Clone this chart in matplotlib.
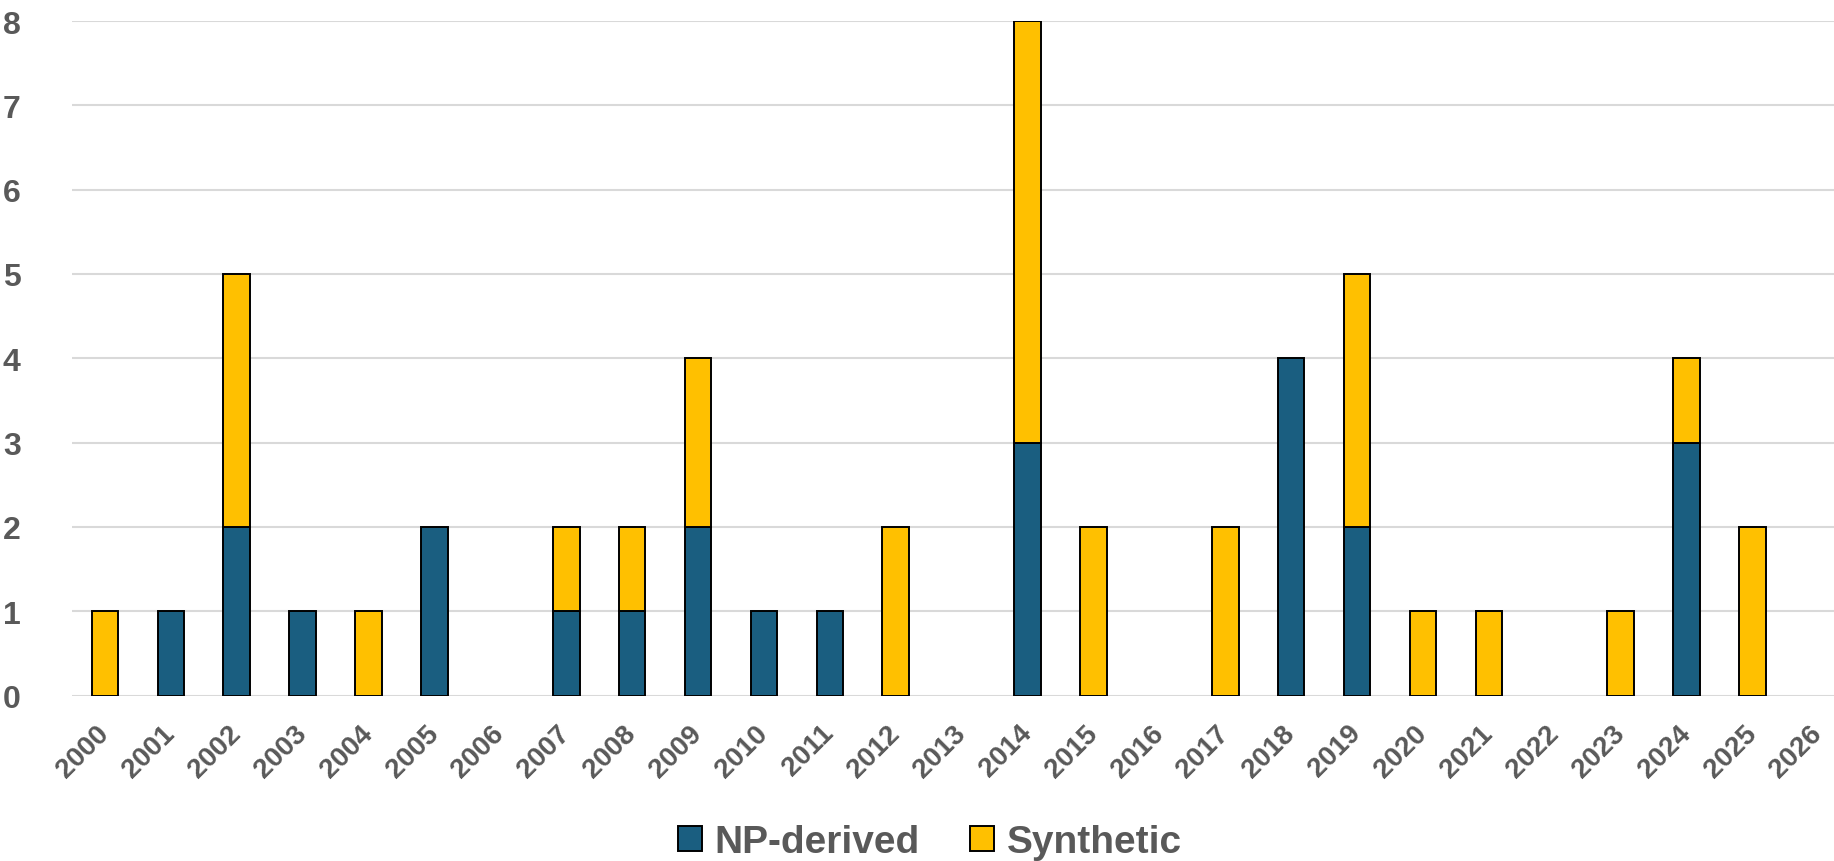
import matplotlib.pyplot as plt
import numpy as np

years = [str(y) for y in range(2000, 2027)]
np_derived = [0, 1, 2, 1, 0, 2, 0, 1, 1, 2, 1, 1, 0, 0, 3, 0, 0, 0, 4, 2, 0, 0, 0, 0, 3, 0, 0]
synthetic = [1, 0, 3, 0, 1, 0, 0, 1, 1, 2, 0, 0, 2, 0, 5, 2, 0, 2, 0, 3, 1, 1, 0, 1, 1, 2, 0]

blue = '#1A5E80'
yellow = '#FFC000'
grey = '#595959'

W, H = 1834, 862
fig = plt.figure(figsize=(W / 100, H / 100), dpi=100)
ax = fig.add_axes([72 / W, (H - 696.5) / H, (W - 72) / W, (696.5 - 22) / H])

x = np.arange(len(years))
nd = np.array(np_derived)
sy = np.array(synthetic)
m1 = nd > 0
m2 = sy > 0
# skip zero-height bars so they don't leave a flat outline
ax.bar(x[m1], nd[m1], width=0.405, color=blue, edgecolor='black', linewidth=1.4,
       label='NP-derived', zorder=3)
ax.bar(x[m2], sy[m2], width=0.405, bottom=nd[m2], color=yellow, edgecolor='black',
       linewidth=1.4, label='Synthetic', zorder=3)

ax.set_ylim(0, 8)
ax.set_xlim(-0.5, -0.5 + (W - 72) / 65.9)
ax.set_yticks(range(0, 9))
ax.yaxis.grid(True, color='#D9D9D9', linewidth=1.5, zorder=0)
ax.set_axisbelow(True)
for s in ax.spines.values():
    s.set_visible(False)
ax.tick_params(axis='both', length=0)
ax.tick_params(axis='y', pad=37)

ax.set_xticks(x)
ax.set_xticklabels(years, rotation=45, ha='right', va='center',
                   rotation_mode='anchor', fontsize=20, fontweight='bold',
                   color=grey, family='Liberation Sans')
ax.tick_params(axis='x', pad=24)
for lab in ax.get_yticklabels():
    lab.set_fontsize(23)
    lab.set_fontweight('bold')
    lab.set_color(grey)
    lab.set_family('Liberation Sans')

leg = fig.legend(loc='center', bbox_to_anchor=(930 / W, (H - 843) / H),
                 ncol=2, frameon=False, handlelength=0.62, handleheight=0.62,
                 handletextpad=0.32, columnspacing=1.3,
                 prop={'family': 'Liberation Sans', 'weight': 'bold', 'size': 28})
for t in leg.get_texts():
    t.set_color(grey)

fig.savefig('out.png', dpi=100)
